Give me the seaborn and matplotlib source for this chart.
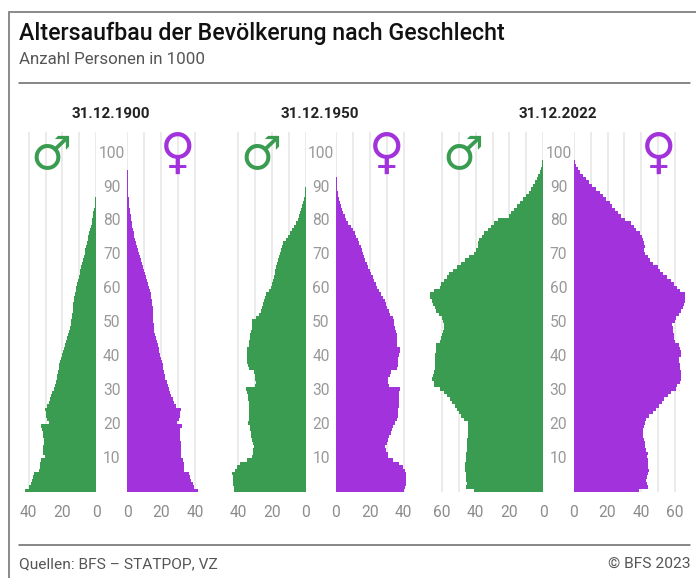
import matplotlib
matplotlib.use("Agg")
import matplotlib.pyplot as plt
from matplotlib.lines import Line2D
from matplotlib.ticker import FixedLocator
import pandas as pd
import seaborn as sns

# values in 1000 persons, index = age in years
male_1900 = [42,39.6,38.8,37.8,37.2,36.6,33.9,33.5,33.3,33,30.5,31.7,31.7,31.3,31,31,31.3,31.7,32,32.7,
             28.2,29,29.5,30,30.4,29,27.8,27.2,26.6,26,25.2,24.4,23.8,23.4,23,22.7,22.3,21.9,21.5,20.9,
             20.3,19.7,19,18.5,17.9,17.3,16.7,16.2,15.6,15.2,14.8,14.4,14.2,14,13.8,13.6,13.3,13,12.6,12.2,
             11.8,11.3,10.8,10.4,9.9,9.5,9,8.5,8,7.4,6.9,6.5,6,5.6,5.1,4.7,4.2,3.7,3.2,2.8,
             2.4,2,1.7,1.3,1,0.8,0.6,0.45,0.3,0.2,0.15,0.1,0.08,0.05,0.03,0.02]
female_1900 = [41.6,39.6,38.8,37.8,37.2,36.4,33.7,33.7,33.5,32.9,31.5,31.5,31.5,31.5,31.5,31,31,31,31.3,32.3,
               29.3,30.5,31.1,31.3,31.7,29.1,27.7,26.9,25.9,25.1,24.4,23.8,23.2,22.6,22.2,21.8,21.4,21,20.4,20,
               19.6,19,18.6,18,17.4,16.8,16.2,16,15.8,15.6,15.4,15.2,15.2,15,15,14.9,14.6,14.2,13.8,13.4,
               12.9,12.3,11.7,11.1,10.5,9.9,9.2,8.6,8,7.3,6.7,6.2,5.7,5.2,4.7,4.2,3.8,3.4,3,2.6,
               2.2,1.9,1.6,1.4,1.2,1,0.8,0.65,0.5,0.4,0.3,0.25,0.2,0.15,0.12,0.1,0.08,0.05]
male_1950 = [42.4,42.8,43,43.2,43.4,43.6,42,40.8,39.2,35.2,31.7,31.3,31.3,30.5,31.3,32,32.5,32.7,33,33.3,
             34.3,33.7,33.7,33.9,33.9,34,34,34.3,34.5,34.7,35.6,30.3,29.7,30,30.3,30.9,33.7,34.3,34.9,35.2,
             34.7,35,35,34,33.9,33.3,32.9,32.5,32,31.9,31.7,29.7,28.1,26.9,26.1,25.3,25,24.4,23.4,21.8,
             21,20.4,19.8,19.2,18.6,18.2,17.6,17,16.4,15.8,15.2,14.7,14,13.5,12.1,10.7,9.5,8.3,7.1,5.9,
             4.8,4,3.4,2.8,2.2,1.6,1.2,0.8,0.6,0.4,0.2,0.15,0.1,0.05]
female_1950 = [40.4,40.8,41.4,41.4,41.4,41.4,40.8,39.8,37.2,33.9,30.5,30.5,29.8,29,30,30.9,31.5,32.3,32.9,33.9,
               34.9,35.9,36.5,36.6,36.8,37,37,37,37.2,37.4,37.6,31.5,30.5,30.9,31.9,32.5,35.9,36.8,36.8,36.6,
               37.2,38,37.8,36.3,36.3,35.9,35.9,35.5,34.9,34.3,34.3,33.5,31.9,31.1,30.3,29.4,28.9,28,26.4,25.2,
               24,23.4,22.5,21.7,20.9,20.1,19.1,18.3,17.3,16.7,16.2,15.4,14.8,13.8,13,12,11.2,9.9,8.7,7.3,
               5.9,5.1,4.3,3.5,2.8,2.2,1.8,1.4,1,0.8,0.6,0.4,0.3,0.2,0.15,0.1,0.1]
male_2022 = [41.3,45.8,45.2,45.6,45.8,46,46.2,46.2,46.2,46,45.6,45.6,45.2,45.2,45,44.9,44.7,44.5,44.3,44.3,
             44.7,47.2,48.8,49.6,51.2,52.5,54,55.5,57,59,61.4,64.5,64.9,65.7,65.5,64.5,64.3,64.3,64.1,64.1,
             63.9,63.7,63.7,63.3,61.4,60.8,60.2,59.4,59,58.8,59.4,59.8,62,63.3,64.3,65.1,65.9,67,67,64.5,
             61.4,60.6,58.6,57,55.9,53.5,51.2,48.8,46.2,43.9,41.3,39.7,38.8,38.4,38,36,35,33,30.9,28.9,
             27,20,19.1,17.3,15.7,13.8,11.8,10.2,8.7,7.5,5.9,4.7,3.9,3,2,1.4,1,0.6,0.4,0.2,0.1,0.05]
female_2022 = [38.9,43.8,43.2,42.8,43.2,43.8,44.4,44,43.8,43.8,43.2,43.8,42.8,42.4,42,41.6,41.2,41.2,41.2,41.4,
               42,42.8,44.8,46.7,48.7,50.6,52.2,53.7,55.7,57.5,60.8,61.4,62.7,63.7,63.7,63.3,62.9,62.7,62.3,62.3,
               63.3,63.3,62.7,62.3,60,59.6,59.4,59,58.6,58.4,59.8,60.4,62.3,63.7,64.7,65.5,65.9,66,65.9,62.7,
               61.4,59.4,57.5,55.5,52.6,51,49.6,47.1,45.1,43.8,42.4,41.8,42.4,41.4,40.8,40.3,39.3,36.9,35.4,34.2,
               30.1,28.1,26.2,24.6,22.9,21.3,19.3,17.4,15.4,12.9,10.9,9.2,7.2,5.3,3.7,2.3,1.4,0.8,0.4,0.2,0.15,0.1]

panel_titles = ["31.12.1900", "31.12.1950", "31.12.2022"]
age_ticks = [10, 20, 30, 40, 50, 60, 70, 80, 90, 100]
title = "Altersaufbau der Bevölkerung nach Geschlecht"
subtitle = "Anzahl Personen in 1000"
source = "Quellen: BFS – STATPOP, VZ"
copyright_text = "© BFS 2023"

green = "#3a9c50"
purple = "#a232dc"
W, H = 696, 578
PX_PER_1000 = 1.69
AX_TOP, AX_BOTTOM = 131.7, 492.3

sns.set_theme(style="white")
plt.rcParams["font.family"] = ["Roboto", "DejaVu Sans"]

fig = plt.figure(figsize=(W / 100, H / 100), dpi=100)


def make_ax(x_left, x_right):
    return fig.add_axes([x_left / W, 1 - AX_BOTTOM / H, (x_right - x_left) / W, (AX_BOTTOM - AX_TOP) / H])


def draw_side(ax, values, color, xmax, grid_max, flip):
    df = pd.DataFrame({"age": range(len(values)), "n": values})
    sns.barplot(data=df, x="n", y="age", orient="h", native_scale=True, width=1.03,
                color=color, saturation=1, linewidth=0, ax=ax)
    ax.set_ylim(-0.5, 105.9)
    ax.set_xlim((xmax, 0) if flip else (0, xmax))
    ax.set_xlabel("")
    ax.set_ylabel("")
    ax.set_xticks(list(range(0, grid_max + 1, 20)))
    ax.xaxis.set_minor_locator(FixedLocator(list(range(10, grid_max + 1, 20))))
    ax.set_axisbelow(True)
    ax.grid(axis="x", which="both", color="#e6e6e6", linewidth=1.1)
    ax.grid(axis="y", visible=False)
    ax.tick_params(axis="x", which="both", length=0, pad=9, labelsize=11.2, labelcolor="#8c8c8c")
    ax.set_yticks([])
    sns.despine(ax=ax, left=True, right=True, top=True, bottom=True)


panels = [
    (male_1900, female_1900, 96.3, 127.3, 44, 40, 110.5, 51, 178),
    (male_1950, female_1950, 306.0, 336.0, 44, 40, 320, 261, 387),
    (male_2022, female_2022, 543.3, 573.7, 70, 60, 558, 463, 659),
]

for i, (men, women, zero_l, zero_r, xmax, grid_max, mid, male_x, female_x) in enumerate(panels):
    span = xmax * PX_PER_1000
    ax_l = make_ax(zero_l - span, zero_l)
    ax_r = make_ax(zero_r, zero_r + span)
    draw_side(ax_l, men, green, xmax, grid_max, True)
    draw_side(ax_r, women, purple, xmax, grid_max, False)

    # age labels sit in the gap between the two halves
    ax_l.yaxis.tick_right()
    ax_l.set_yticks(age_ticks)
    ax_l.tick_params(axis="y", length=0, pad=(zero_r - zero_l) / 2 * 0.72, labelsize=11.2, labelcolor="#999999")
    for lab in ax_l.get_yticklabels():
        lab.set_ha("center")

    fig.text(mid / W, 1 - 114 / H, panel_titles[i], ha="center", va="center",
             fontsize=11, fontweight="bold", color="#222222")
    fig.text(male_x / W, 1 - 157 / H, "♂", ha="center", va="center", fontsize=33,
             color=green, family="DejaVu Sans")
    fig.text(female_x / W, 1 - 153.5 / H, "♀", ha="center", va="center", fontsize=35,
             color=purple, family="DejaVu Sans")

fig.text(19 / W, 1 - 33 / H, title, ha="left", va="center", fontsize=16.7, fontweight="medium", color="#111111")
fig.text(19 / W, 1 - 59 / H, subtitle, ha="left", va="center", fontsize=12.2, color="#555555")
fig.text(19 / W, 1 - 564 / H, source, ha="left", va="center", fontsize=11.15, color="#555555")
fig.text(690 / W, 1 - 564 / H, copyright_text, ha="right", va="center", fontsize=11.15, color="#555555")

for xs, ys, c, lw in [
    ((8.5, 8.5), (12, 578), "#8a8a8a", 1.4),
    ((8.5, 696), (12, 12), "#8a8a8a", 1.4),
    ((19, 690), (83, 83), "#666666", 1.1),
    ((19, 690), (545, 545), "#666666", 1.1),
]:
    fig.add_artist(Line2D([x / W for x in xs], [1 - y / H for y in ys], color=c, linewidth=lw))

fig.savefig("out.png", dpi=100)
